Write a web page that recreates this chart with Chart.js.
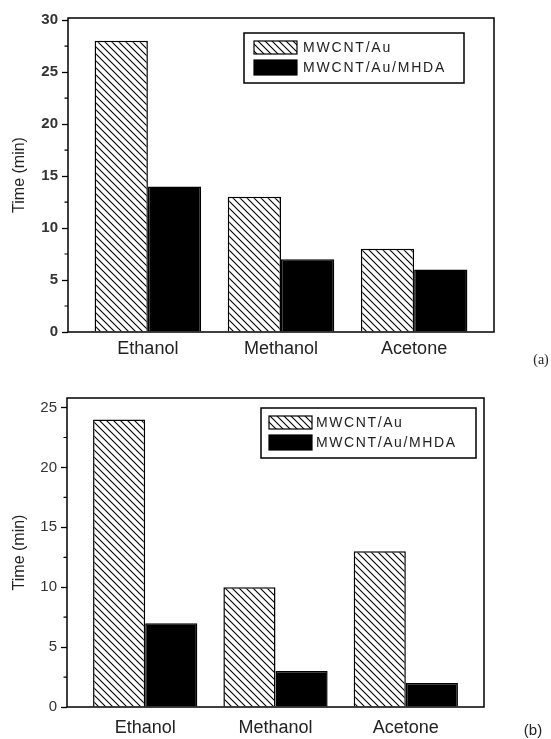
<!DOCTYPE html>
<html><head><meta charset="utf-8">
<script src="https://cdn.jsdelivr.net/npm/chart.js@4/dist/chart.umd.min.js"></script>
<style>
html,body{margin:0;padding:0;background:#fff;width:551px;height:739px;overflow:hidden}
canvas{position:absolute;left:0}
#ca{top:0}#cb{top:370px}
</style></head>
<body>
<canvas id="ca" width="551" height="370"></canvas>
<canvas id="cb" width="551" height="369"></canvas>
<script>
// ---- data ----
const categoriesA = ['Ethanol', 'Methanol', 'Acetone'];
const categoriesB = ['Ethanol', 'Methanol', 'Acetone'];
const seriesNames = ['MWCNT/Au', 'MWCNT/Au/MHDA'];
const auA = [28, 13, 8];
const mhdaA = [14, 7, 6];
const auB = [24, 10, 13];
const mhdaB = [7, 3, 2];
const yTicksA = [0, 5, 10, 15, 20, 25, 30];
const yTicksB = [0, 5, 10, 15, 20, 25];
const yTitle = 'Time (min)';
const panelLabels = ['(a)', '(b)'];

function makeHatch() {
  const n = 7;
  const c = document.createElement('canvas');
  c.width = n; c.height = n;
  const g = c.getContext('2d');
  g.fillStyle = '#fff'; g.fillRect(0, 0, n, n);
  g.strokeStyle = '#000'; g.lineWidth = 1.1;
  g.beginPath();
  g.moveTo(-1, -1); g.lineTo(n + 1, n + 1);
  g.moveTo(-1, n - 1); g.lineTo(1, n + 1);
  g.moveTo(n - 1, -1); g.lineTo(n + 1, 1);
  g.stroke();
  return c;
}

function makeChart(canvas, cats, s1, s2, yTicks, yMax, geo) {
  const ctx0 = canvas.getContext('2d');
  const hatch = ctx0.createPattern(makeHatch(), 'repeat');
  const toPts = vals => cats.map((c, i) => ({ x: i + 1, y: vals[i] }));
  const minors = [];
  for (let i = 0; i < yTicks.length - 1; i++) minors.push((yTicks[i] + yTicks[i + 1]) / 2);

  const deco = {
    id: 'deco',
    afterDraw(chart) {
      const ctx = chart.ctx, a = chart.chartArea, ys = chart.scales.y;
      ctx.save();
      ctx.strokeStyle = '#000'; ctx.lineWidth = 1.5;
      ctx.strokeRect(a.left, a.top, a.right - a.left, a.bottom - a.top);
      ctx.lineWidth = 1.2;
      ctx.beginPath();
      minors.forEach(m => {
        const y = ys.getPixelForValue(m);
        ctx.moveTo(a.left - 3.5, y); ctx.lineTo(a.left, y);
      });
      ctx.stroke();
      const L = geo.legend;
      ctx.lineWidth = 1.5;
      ctx.strokeRect(L.x0, L.y0, L.x1 - L.x0, L.y1 - L.y0);
      chart.data.datasets.forEach((ds, i) => {
        const r = L.rows[i];
        ctx.fillStyle = ds.backgroundColor;
        ctx.fillRect(L.sx0, r[0], L.sx1 - L.sx0, r[1] - r[0]);
        ctx.lineWidth = 1.2; ctx.strokeStyle = '#000';
        ctx.strokeRect(L.sx0, r[0], L.sx1 - L.sx0, r[1] - r[0]);
        ctx.fillStyle = '#222';
        ctx.font = '14px "Liberation Sans", Arial, sans-serif';
        ctx.textBaseline = 'middle'; ctx.textAlign = 'left';
        ctx.letterSpacing = geo.legendSpacing;
        ctx.fillText(ds.label, L.tx, (r[0] + r[1]) / 2 + 1);
        ctx.letterSpacing = '0px';
      });
      ctx.fillStyle = '#222';
      ctx.font = geo.panelFont;
      ctx.textAlign = 'center'; ctx.textBaseline = 'middle';
      ctx.fillText(geo.panel, geo.panelX, geo.panelY);
      ctx.restore();
    }
  };

  return new Chart(canvas, {
    type: 'bar',
    data: {
      datasets: [
        { label: seriesNames[0], data: toPts(s1), backgroundColor: hatch, borderColor: '#000', borderWidth: 1.5 },
        { label: seriesNames[1], data: toPts(s2), backgroundColor: '#000', borderColor: '#000', borderWidth: 1.5 }
      ]
    },
    options: {
      responsive: false, animation: false, devicePixelRatio: 1,
      categoryPercentage: 0.8, barPercentage: 1,
      layout: { padding: { left: 0, right: geo.padRight, top: geo.padTop, bottom: 0 } },
      plugins: { legend: { display: false }, tooltip: { enabled: false } },
      scales: {
        x: {
          type: 'linear', min: 0.4, max: 3.6, offset: false,
          afterBuildTicks: s => { s.ticks = cats.map((c, i) => ({ value: i + 1 })); },
          afterFit: s => { s.height = geo.xHeight; },
          grid: { display: false, drawTicks: false },
          border: { display: false },
          ticks: {
            padding: geo.xPad, color: '#222', maxRotation: 0, autoSkip: false,
            font: { family: '"Liberation Sans", Arial, sans-serif', size: 18 },
            callback: v => cats[v - 1]
          }
        },
        y: {
          min: 0, max: yMax,
          afterBuildTicks: s => { s.ticks = yTicks.map(v => ({ value: v })); },
          afterFit: s => { s.width = geo.yWidth; },
          grid: { drawOnChartArea: false, drawTicks: true, tickLength: 6, tickColor: '#000', tickWidth: 1.3 },
          border: { display: false },
          ticks: {
            padding: 4, color: '#333',
            font: { family: '"Liberation Sans", Arial, sans-serif', size: 15, weight: geo.yWeight }
          },
          title: {
            display: true, text: yTitle, color: '#222',
            font: { family: '"Liberation Sans", Arial, sans-serif', size: 16 },
            padding: { top: 10, bottom: 0 }
          }
        }
      }
    },
    plugins: [deco]
  });
}

makeChart(document.getElementById('ca'), categoriesA, auA, mhdaA, yTicksA, 30.2, {
  padRight: 57, padTop: 18, xHeight: 38, yWidth: 68, xPad: 6, yWeight: 'bold',
  legend: { x0: 244, x1: 464, y0: 33, y1: 83, sx0: 254, sx1: 297, rows: [[41, 54], [60, 75]], tx: 303 },
  legendSpacing: '1.8px',
  panel: panelLabels[0], panelX: 541, panelY: 360, panelFont: '14px "Liberation Serif", "Times New Roman", serif'
});

makeChart(document.getElementById('cb'), categoriesB, auB, mhdaB, yTicksB, 25.8, {
  padRight: 67, padTop: 28, xHeight: 32, yWidth: 67, xPad: 10, yWeight: 'normal',
  legend: { x0: 261, x1: 476, y0: 38, y1: 88, sx0: 269, sx1: 312, rows: [[46, 59], [65, 80]], tx: 316 },
  legendSpacing: '1.6px',
  panel: panelLabels[1], panelX: 533, panelY: 361, panelFont: '15px "Liberation Sans", Arial, sans-serif'
});
</script>
</body></html>
